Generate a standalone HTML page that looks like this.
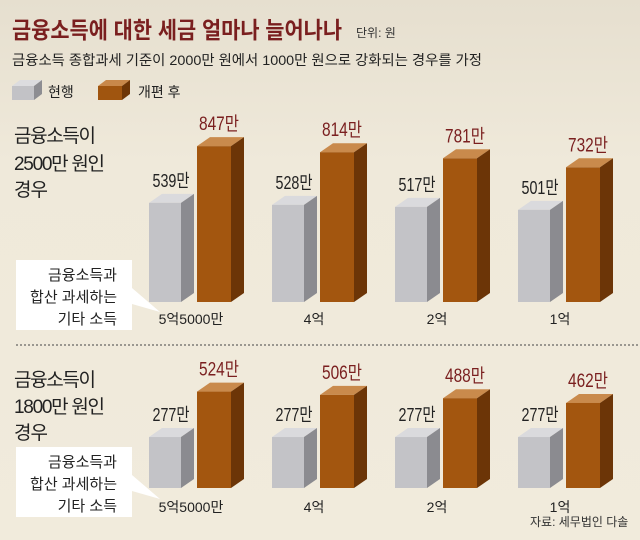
<!DOCTYPE html>
<html><head><meta charset="utf-8"><style>
body{margin:0;width:640px;height:540px;overflow:hidden;background:#efe8d8}
svg{display:block}
text{font-family:"Liberation Sans","Noto Sans CJK KR",sans-serif}
</style></head><body>
<svg width="640" height="540" xmlns="http://www.w3.org/2000/svg">
<defs><linearGradient id="bg" x1="0" y1="0" x2="0" y2="1"><stop offset="0" stop-color="#e6dfcf"/><stop offset="0.3" stop-color="#efe9da"/><stop offset="1" stop-color="#f1ebdc"/></linearGradient></defs>
<rect width="640" height="540" fill="url(#bg)"/>
<text x="12" y="38" font-size="23" fill="#7a1f1f" font-weight="bold" textLength="330" lengthAdjust="spacingAndGlyphs">금융소득에 대한 세금 얼마나 늘어나나</text>
<text x="356" y="37" font-size="12" fill="#333">단위: 원</text>
<text x="12" y="65" font-size="14" fill="#222" textLength="470" lengthAdjust="spacingAndGlyphs">금융소득 종합과세 기준이 2000만 원에서 1000만 원으로 강화되는 경우를 가정</text>
<g>
<polygon points="12,86 34,86 42,80 20,80" fill="#dcdcdf"/><rect x="12" y="86" width="22" height="14" fill="#c2c2c6"/><polygon points="34,86 42,80 42,94 34,100" fill="#8d8d92"/>
<text x="48" y="97" font-size="14" fill="#222">현행</text>
<polygon points="98,86 122,86 130,80 106,80" fill="#c8884a"/><rect x="98" y="86" width="24" height="14" fill="#a0550f"/><polygon points="122,86 130,80 130,94 122,100" fill="#6e3606"/>
<text x="138" y="97" font-size="14" fill="#222">개편 후</text>
</g>
<g font-size="19" fill="#222" lengthAdjust="spacingAndGlyphs">
<text x="14" y="142" textLength="82">금융소득이</text><text x="14" y="170" textLength="91">2500만 원인</text><text x="14" y="196" textLength="34">경우</text>
<text x="14" y="386" textLength="82">금융소득이</text><text x="14" y="413" textLength="91">1800만 원인</text><text x="14" y="439" textLength="34">경우</text>
</g>
<line x1="16" y1="345" x2="640" y2="345" stroke="#444" stroke-dasharray="2,2" stroke-width="1"/>
<g fill="#fff">
<path d="M16,260 H132 V288 L160,312 L132,304 V330 H16 Z"/>
<path d="M16,447 H132 V475 L160,499 L132,491 V517 H16 Z"/>
</g>
<g font-size="15" fill="#222" text-anchor="end">
<text x="117" y="280">금융소득과</text><text x="117" y="302">합산 과세하는</text><text x="117" y="324">기타 소득</text>
<text x="117" y="467">금융소득과</text><text x="117" y="489">합산 과세하는</text><text x="117" y="511">기타 소득</text>
</g>
<g id="bars"></g>
<text x="530" y="526" font-size="12" fill="#333">자료: 세무법인 다솔</text>
<script>
var g=document.getElementById('bars'),ns='http://www.w3.org/2000/svg';
function add(tag,a,t){var e=document.createElementNS(ns,tag);for(var k in a)e.setAttribute(k,a[k]);if(t)e.textContent=t;g.appendChild(e);}
function bar(x,w,b,h,cf,cs,ct){var t=b-h,d=13,u=9;
add('polygon',{points:[x,t,x+w,t,x+w+d,t-u,x+d,t-u].join(' '),fill:ct});
add('rect',{x:x,y:t,width:w,height:h,fill:cf});
add('polygon',{points:[x+w,t,x+w+d,t-u,x+w+d,b-u,x+w,b].join(' '),fill:cs});}
var s=0.184,cats=['5억5000만','4억','2억','1억'];
var rows=[{b:302,cy:324,g:[539,528,517,501],n:[847,814,781,732]},{b:488,cy:512,g:[277,277,277,277],n:[524,506,488,462]}];
rows.forEach(function(r){for(var i=0;i<4;i++){var x=149+123*i;
var hg=r.g[i]*s,hn=r.n[i]*s;
bar(x,32,r.b,hg,'#c3c3c7','#8b8b90','#dadadd');
bar(x+48,34,r.b,hn,'#a3560f','#6c3507','#c98a4c');
add('text',{x:x+22,y:r.b-hg-16,'font-size':18,fill:'#222','text-anchor':'middle',textLength:37,lengthAdjust:'spacingAndGlyphs'},r.g[i]+'만');
add('text',{x:x+70,y:r.b-hn-16,'font-size':19,fill:'#7a1f1f','text-anchor':'middle',textLength:40,lengthAdjust:'spacingAndGlyphs'},r.n[i]+'만');
add('text',{x:x+42,y:r.cy,'font-size':14,fill:'#222','text-anchor':'middle'},cats[i]);}});
</script>
</svg>
</body></html>
